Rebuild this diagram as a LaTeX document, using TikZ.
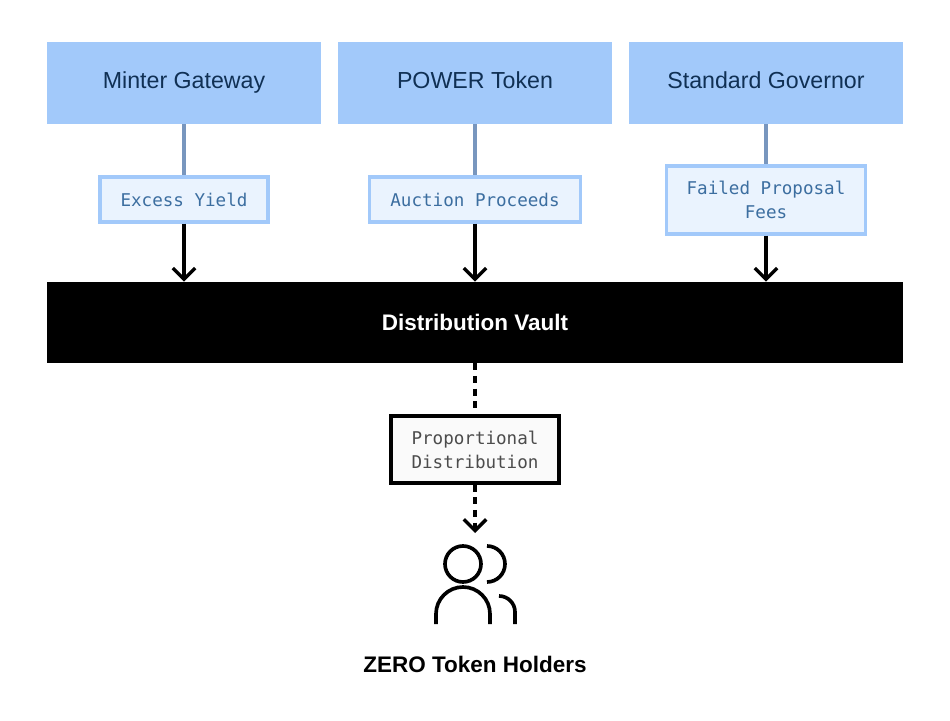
\documentclass[tikz,border=0pt]{standalone}
\usepackage{fontspec}
\setmainfont{Liberation Sans}
\newfontfamily\codefont{DejaVu Sans Mono}
\usetikzlibrary{positioning,arrows.meta}
\definecolor{boxBlue}{RGB}{162,201,250}
\definecolor{boxText}{RGB}{16,48,84}
\definecolor{tagFill}{RGB}{234,243,254}
\definecolor{tagText}{RGB}{60,110,160}
\definecolor{linkTop}{RGB}{120,150,190}
\tikzset{
    source/.style={fill=boxBlue, minimum width=274*0.25mm, minimum height=82*0.25mm, text=boxText, text height=0.85em, text depth=0.1em, font=\fontsize{16.5}{20}\selectfont},
    tag/.style={draw=boxBlue, line width=2.4pt, fill=tagFill, text=tagText, font=\codefont\fontsize{12.5}{17}\selectfont, align=center, inner sep=5pt},
    feed/.style={line width=2.4pt, -{Straight Barb[length=8pt,width=16pt]}}
}
\begin{document}
\begin{tikzpicture}[x=0.25mm, y=-0.25mm]
	\useasboundingbox (0,0) rectangle (950,721);
	\node[source] (minter) at (184,83) {Minter Gateway};
	\node[source] (power) at (475,83) {POWER Token};
	\node[source] (governor) at (766,83) {Standard Governor};
	\node[fill=black, minimum width=856*0.25mm, minimum height=81*0.25mm, text=white, font=\bfseries\fontsize{16}{19}\selectfont] (vault) at (475,322.5) {Distribution Vault};
	\node[tag, minimum width=168*0.25mm, minimum height=45*0.25mm] (yield) at (184,199.5) {Excess Yield};
	\node[tag, minimum width=211*0.25mm, minimum height=45*0.25mm] (auction) at (475,199.5) {Auction Proceeds};
	\node[tag, minimum width=199*0.25mm, minimum height=68*0.25mm] (fees) at (766,200) {Failed Proposal\\Fees};
	% flows into the vault
	\foreach \src/\lbl in {minter/yield, power/auction, governor/fees}{
		\draw[linkTop, line width=2.4pt] (\src.south) -- (\lbl.north);
		\draw[feed] (\lbl.south) -- (\lbl.south |- vault.north);
	}
	\node[draw=black, line width=2.4pt, fill=gray!4, text=black!70, font=\codefont\fontsize{12.5}{17}\selectfont, align=center, minimum width=168*0.25mm, minimum height=67*0.25mm] (share) at (475,449.5) {Proportional\\Distribution};
	\coordinate (holders) at (475,533);
	\draw[line width=2.4pt, dash pattern=on 5pt off 4pt] (vault.south) -- (share.north);
	\draw[line width=2.4pt, dash pattern=on 5pt off 4pt, -{Straight Barb[length=8pt,width=16pt]}] (share.south) -- (holders);
	% holders icon
	\begin{scope}[line width=2.6pt]
		\draw (463,564) circle (18);
		\draw (487,546) arc (-90:90:18);
		\draw (436,624) -- (436,614) arc (180:360:27) -- (490,624);
		\draw (499,596) arc (-90:0:16) -- (515,624);
	\end{scope}
	\node[font=\bfseries\fontsize{16}{19}\selectfont] (caption) at (475,664) {ZERO Token Holders};
\end{tikzpicture}
\end{document}
